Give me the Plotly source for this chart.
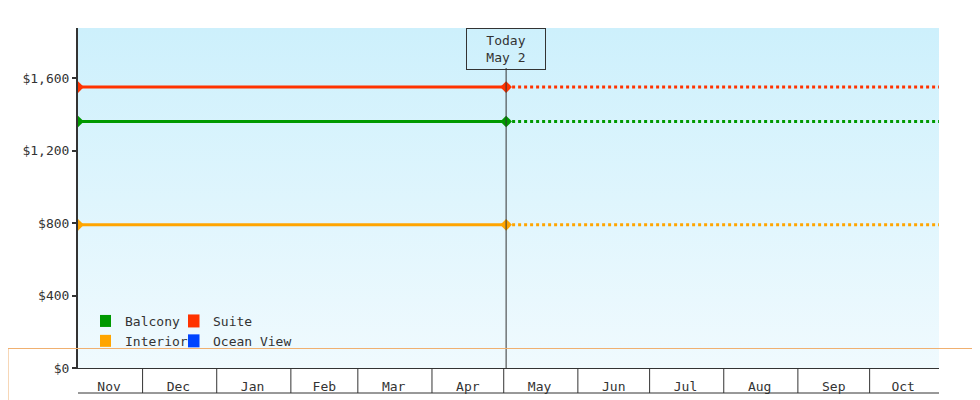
import datetime
import plotly.graph_objects as go

# data
series_names = ['Balcony', 'Interior', 'Suite', 'Ocean View']
series_colors = ['#009900', '#ffa500', '#ff3300', '#0044ff']
series_prices = [1360, 790, 1550, None]
legend_groups = ['legend', 'legend', 'legend2', 'legend2']

start_date = datetime.date(2024, 11, 4)
today = datetime.date(2025, 5, 2)
end_date = datetime.date(2025, 10, 30)
month_starts = [datetime.date(2024, 12, 1), datetime.date(2025, 1, 1), datetime.date(2025, 2, 1),
                datetime.date(2025, 3, 1), datetime.date(2025, 4, 1), datetime.date(2025, 5, 1),
                datetime.date(2025, 6, 1), datetime.date(2025, 7, 1), datetime.date(2025, 8, 1),
                datetime.date(2025, 9, 1), datetime.date(2025, 10, 1)]
month_labels = ['Nov', 'Dec', 'Jan', 'Feb', 'Mar', 'Apr', 'May', 'Jun', 'Jul', 'Aug', 'Sep', 'Oct']
y_ticks = [0, 400, 800, 1200, 1600]
y_max = 1876

FONT = 'DejaVu Sans Mono'
fig = go.Figure()

# gradient background
fig.add_trace(go.Scatter(x=[start_date, end_date, end_date, start_date],
                         y=[0, 0, y_max, y_max], fill='toself', mode='none',
                         fillgradient=dict(type='vertical',
                                           colorscale=[[0, '#f0fafe'], [1, '#cdf0fc']]),
                         hoverinfo='skip', showlegend=False))

for name, color, price, lg in zip(series_names, series_colors, series_prices, legend_groups):
    if price is not None:
        fig.add_trace(go.Scatter(x=[start_date, today], y=[price, price], mode='lines+markers',
                                 line=dict(color=color, width=3),
                                 marker=dict(symbol='diamond', size=9, color=color),
                                 showlegend=False, name=name))
        fig.add_trace(go.Scatter(x=[today, end_date], y=[price, price], mode='lines',
                                 line=dict(color=color, width=3, dash='dot'),
                                 showlegend=False, name=name))
    fig.add_trace(go.Scatter(x=[None], y=[None], mode='markers', name=name, legend=lg,
                             marker=dict(symbol='square', size=13, color=color)))

# month cells below the axis
bounds = [start_date] + month_starts + [end_date]
mids = [a + (b - a) / 2 for a, b in zip(bounds[:-1], bounds[1:])]
shapes = []
for d in month_starts:
    shapes.append(dict(type='line', xref='x', yref='paper', x0=d, x1=d, y0=0, y1=-25 / 340,
                       line=dict(color='#333333', width=1)))
shapes.append(dict(type='line', xref='paper', yref='paper', x0=0, x1=1, y0=-25 / 340,
                   y1=-25 / 340, line=dict(color='#333333', width=1)))
# today line
shapes.append(dict(type='line', xref='x', yref='paper', x0=today, x1=today, y0=0, y1=300 / 340,
                   line=dict(color='#333333', width=1)))
# page border
shapes.append(dict(type='rect', xref='paper', yref='paper', x0=-70 / 861, x1=(980 - 71) / 861,
                   y0=-39.5 / 340, y1=19.5 / 340, line=dict(color='#f0b070', width=1)))

fig.update_layout(
    width=980, height=400, margin=dict(l=70, r=49, t=20, b=40),
    paper_bgcolor='white', plot_bgcolor='rgba(0,0,0,0)',
    font=dict(family=FONT, size=13, color='#333333'),
    shapes=shapes,
    xaxis=dict(range=[start_date, end_date], tickvals=mids, ticktext=month_labels,
               showgrid=False, zeroline=False, showline=True, linecolor='#333333', linewidth=1,
               ticks='', ticklabelstandoff=6, fixedrange=True),
    yaxis=dict(range=[0, y_max], tickvals=y_ticks, ticktext=['$' + f'{v:,}' for v in y_ticks],
               showgrid=False, zeroline=False, showline=True, linecolor='#333333', linewidth=2,
               ticks='outside', ticklen=4, tickcolor='#333333', tickwidth=2),
    legend=dict(x=22 / 861, y=12 / 340, xanchor='left', yanchor='bottom', bgcolor='rgba(0,0,0,0)',
                tracegroupgap=0, itemsizing='constant', font=dict(size=13),
                itemwidth=30, indentation=-15),
    legend2=dict(x=110 / 861, y=12 / 340, xanchor='left', yanchor='bottom',
                 bgcolor='rgba(0,0,0,0)', font=dict(size=13), itemwidth=30, indentation=-15),
    annotations=[dict(x=today, y=1, xref='x', yref='paper', yanchor='top', showarrow=False,
                      text='Today<br>May 2', bordercolor='#333333', borderwidth=1,
                      borderpad=4, bgcolor='rgba(0,0,0,0)', width=70,
                      font=dict(family=FONT, size=13, color='#333333'))],
)

fig.write_html('out.html')
